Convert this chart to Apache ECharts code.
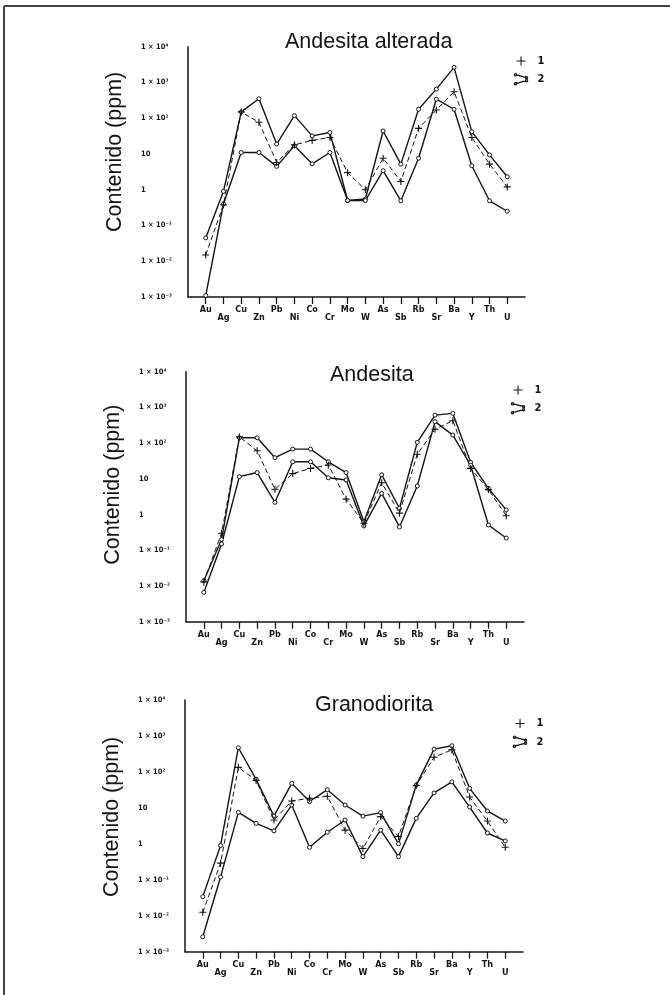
<!DOCTYPE html>
<html>
<head>
<meta charset="utf-8">
<script src="https://cdn.jsdelivr.net/npm/echarts@6/dist/echarts.min.js"></script>
<style>
html, body { margin: 0; padding: 0; background: #fff; }
#container { width: 670px; height: 995px; }
</style>
</head>
<body>
<div id="container"></div>
<script>
var elements = ['Au', 'Ag', 'Cu', 'Zn', 'Pb', 'Ni', 'Co', 'Cr', 'Mo', 'W', 'As', 'Sb', 'Rb', 'Sr', 'Ba', 'Y', 'Th', 'U'];
var yTickLabels = ['1 × 10⁻³', '1 × 10⁻²', '1 × 10⁻¹', '1', '10', '1 × 10²', '1 × 10³', '1 × 10⁴'];
var panelTitles = ['Andesita alterada', 'Andesita', 'Granodiorita'];

// serie 1 (discontinua, +) y las dos curvas de la serie 2
var alteradaS1 = [0.015, 0.38, 150, 77, 5.8, 18, 24, 29, 3, 1.0, 7.6, 1.7, 52, 170, 550, 29, 5.2, 1.2];
var alteradaS2a = [0.045, 0.9, 150, 350, 19, 118, 32, 40, 0.5, 0.55, 44, 5.2, 178, 650, 2650, 42, 9.4, 2.3];
var alteradaS2b = [0.0011, 0.4, 11, 11, 4.5, 17, 5.3, 11, 0.5, 0.5, 3.4, 0.49, 7.6, 340, 178, 4.7, 0.49, 0.25];

var andesitaS1 = [0.013, 0.3, 150, 61, 5.1, 14, 19.6, 24.5, 2.7, 0.57, 7.8, 1.1, 49, 245, 425, 19.6, 5, 0.93];
var andesitaS2a = [0.014, 0.2, 141, 141, 39, 68, 68, 30, 15, 0.63, 13, 1.5, 105, 610, 680, 29, 5.4, 1.35];
var andesitaS2b = [0.0066, 0.15, 11.5, 15, 2.2, 30, 30, 10.7, 9.3, 0.48, 3.9, 0.45, 6.3, 400, 168, 24, 0.51, 0.22];

var granoS1 = [0.0125, 0.29, 134, 58, 4.6, 15.5, 18.5, 21, 2.4, 0.74, 5.7, 1.6, 42, 255, 410, 20, 4.3, 0.8];
var granoS2a = [0.034, 0.9, 470, 62, 5.9, 48, 15, 32, 12, 5.9, 7.4, 1.0, 43, 430, 535, 35, 8.2, 4.3];
var granoS2b = [0.0026, 0.12, 7.5, 3.7, 2.3, 12, 0.8, 2.1, 4.6, 0.44, 2.4, 0.44, 5.1, 26, 53, 10.5, 2, 1.2];

var panelData = [
    [alteradaS1, alteradaS2a, alteradaS2b],
    [andesitaS1, andesitaS2a, andesitaS2b],
    [granoS1, granoS2a, granoS2b]
];

// layout of the three panels
var grids = [
    { left: 188, top: 46.7, width: 337, height: 250.3 },
    { left: 186, top: 371.7, width: 338, height: 250 },
    { left: 185, top: 700, width: 338, height: 251.7 }
];
var titlePos = [[285, 31], [330, 364.5], [315, 694.5]];
var legendTop = [49, 378, 711.5];
var legendLeft = [508, 505, 507];
var namePad = [40, 24, 18];

var ink = '#141414';
var tickFont = "'Liberation Sans Narrow', 'DejaVu Sans Condensed', sans-serif";
var plusIcon = 'path://M0,0M15,13M7.5,2L7.5,11M3,6.5L12,6.5';
var pairIcon = 'path://M0,0M15,13M2,2L13,5M2,11L13,8' +
    'M0.8,2a1.2,1.2 0 1,0 2.4,0a1.2,1.2 0 1,0 -2.4,0' +
    'M11.8,5a1.2,1.2 0 1,0 2.4,0a1.2,1.2 0 1,0 -2.4,0' +
    'M0.8,11a1.2,1.2 0 1,0 2.4,0a1.2,1.2 0 1,0 -2.4,0' +
    'M11.8,8a1.2,1.2 0 1,0 2.4,0a1.2,1.2 0 1,0 -2.4,0';

var cats = [''].concat(elements).concat(['']);

function pairs(vals) {
    return elements.map(function (e, i) { return [e, vals[i]]; });
}

var option = {
    backgroundColor: '#fff',
    animation: false,
    title: [],
    legend: [],
    grid: [],
    xAxis: [],
    yAxis: [],
    series: [],
    graphic: [
        { type: 'line', shape: { x1: 4, y1: 6, x2: 670, y2: 6 }, style: { stroke: '#444', lineWidth: 2 } },
        { type: 'line', shape: { x1: 4, y1: 6, x2: 4, y2: 995 }, style: { stroke: '#444', lineWidth: 2 } }
    ]
};

for (var p = 0; p < 3; p++) {
    option.grid.push(grids[p]);
    option.title.push({
        text: panelTitles[p],
        left: titlePos[p][0],
        top: titlePos[p][1],
        padding: 0,
        textStyle: { fontFamily: "'Liberation Sans', Arial, sans-serif", fontSize: 21.5, fontWeight: 'normal', color: ink }
    });
    option.legend.push({
        orient: 'vertical',
        left: legendLeft[p],
        top: legendTop[p],
        itemWidth: 15,
        itemHeight: 13,
        itemGap: 4,
        selectedMode: false,
        itemStyle: { color: '#fff', borderColor: ink, borderWidth: 1.1 },
        textStyle: { fontFamily: tickFont, fontWeight: 'bold', fontSize: 11, color: ink, padding: [0, 0, 0, 4] },
        data: [{ name: '1', icon: plusIcon }, { name: '2', icon: pairIcon }]
    });
    option.xAxis.push({
        type: 'category',
        gridIndex: p,
        data: cats,
        boundaryGap: false,
        axisLine: { lineStyle: { color: ink, width: 1.5 } },
        axisTick: {
            length: 7,
            lineStyle: { color: ink, width: 1.3 },
            interval: function (idx, val) { return val !== ''; }
        },
        axisLabel: {
            interval: 0,
            margin: 9,
            fontFamily: tickFont,
            fontWeight: 'bold',
            fontSize: 9,
            lineHeight: 8,
            color: ink,
            formatter: function (v, i) {
                if (!v) return '';
                return i % 2 === 1 ? v : '\n' + v;
            }
        },
        splitLine: { show: false }
    });
    option.yAxis.push({
        type: 'log',
        logBase: 10,
        gridIndex: p,
        min: 0.001,
        max: 10000,
        name: 'Contenido (ppm)',
        nameLocation: 'middle',
        nameGap: 62,
        nameMoveOverlap: false,
        nameTextStyle: {
            fontFamily: "'Liberation Sans', Arial, sans-serif",
            fontSize: 21.5,
            color: ink,
            padding: [0, 0, 0, namePad[p]]
        },
        axisLine: { show: true, lineStyle: { color: ink, width: 1.5 } },
        axisTick: { show: false },
        splitLine: { show: false },
        axisLabel: {
            margin: 47,
            align: 'left',
            fontFamily: tickFont,
            fontWeight: 'bold',
            fontSize: 7.5,
            color: ink,
            formatter: function (v) {
                var e = Math.round(Math.log(v) / Math.LN10);
                return yTickLabels[e + 3];
            }
        }
    });

    var d = panelData[p];
    option.series.push({
        name: '1',
        type: 'line',
        xAxisIndex: p,
        yAxisIndex: p,
        data: pairs(d[0]),
        symbol: 'path://M5,0L5,10M0,5L10,5',
        symbolSize: 7,
        itemStyle: { color: '#fff', borderColor: ink, borderWidth: 1.1 },
        lineStyle: { color: ink, width: 1, type: [5, 3] },
        emphasis: { disabled: true },
        z: 3
    });
    for (var k = 1; k <= 2; k++) {
        option.series.push({
            name: '2',
            type: 'line',
            xAxisIndex: p,
            yAxisIndex: p,
            data: pairs(d[k]),
            symbol: 'circle',
            symbolSize: 4,
            itemStyle: { color: '#fff', borderColor: ink, borderWidth: 1 },
            lineStyle: { color: ink, width: 1.4 },
            emphasis: { disabled: true },
            z: 2
        });
    }
}

var dom = document.getElementById('container');
var myChart = echarts.init(dom);
myChart.setOption(option);
</script>
</body>
</html>
